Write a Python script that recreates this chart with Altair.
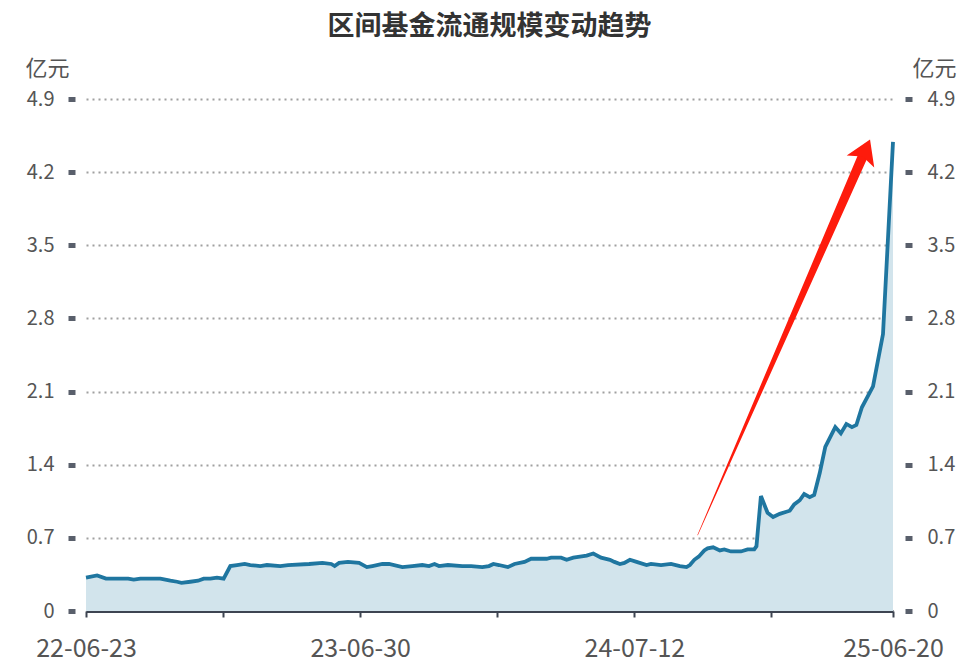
import altair as alt
import pandas as pd

# trading-day index (x) and circulating scale in 亿元 (y)
idx = [0, 10, 18, 38, 43, 49, 67, 76, 82, 86, 94, 101, 106, 112, 118, 124,
       130, 136, 143, 148, 157, 163, 175, 182, 201, 213, 221, 224, 228, 236,
       246, 253, 258, 267, 273, 285, 294, 303, 309, 314, 318, 326, 339, 347,
       357, 363, 367, 372, 380, 386, 395, 401, 415, 419, 428, 433, 439, 445,
       451, 457, 464, 472, 476, 481, 485, 490, 496, 505, 509, 518, 527, 535,
       541, 544, 548, 552, 557, 560, 565, 571, 575, 581, 590, 596, 602, 604,
       608, 614, 619, 625, 631, 634, 638, 643, 647, 652, 656, 661, 666, 675,
       680, 685, 690, 694, 699, 709, 718, 727]
val = [0.32, 0.34, 0.31, 0.31, 0.30, 0.31, 0.31, 0.29, 0.28, 0.27, 0.28, 0.29,
       0.31, 0.31, 0.32, 0.31, 0.43, 0.44, 0.45, 0.44, 0.43, 0.44, 0.43, 0.44,
       0.45, 0.46, 0.45, 0.43, 0.46, 0.47, 0.46, 0.42, 0.43, 0.45, 0.45, 0.42,
       0.43, 0.44, 0.43, 0.45, 0.43, 0.44, 0.43, 0.43, 0.42, 0.43, 0.45, 0.44,
       0.42, 0.45, 0.47, 0.50, 0.50, 0.51, 0.51, 0.49, 0.51, 0.52, 0.53, 0.55,
       0.51, 0.49, 0.47, 0.45, 0.46, 0.49, 0.47, 0.44, 0.45, 0.44, 0.45, 0.43,
       0.42, 0.44, 0.49, 0.52, 0.58, 0.60, 0.61, 0.58, 0.59, 0.57, 0.57, 0.59,
       0.59, 0.62, 1.10, 0.94, 0.90, 0.93, 0.95, 0.96, 1.02, 1.06, 1.12, 1.09,
       1.11, 1.32, 1.57, 1.76, 1.70, 1.79, 1.76, 1.78, 1.95, 2.15, 2.65, 4.49]

x_tick_values = [0, 123, 247, 370, 494, 617, 727]
x_label_idx = [0, 247, 494, 727]
x_label_text = ["22-06-23", "23-06-30", "24-07-12", "25-06-20"]
y_ticks = [0, 0.7, 1.4, 2.1, 2.8, 3.5, 4.2, 4.9]

# annotation arrow (tapered shaft + head)
arrow_x = [551, 702]
arrow_y = [0.727, 4.407]
arrow_w = [0.5, 10]
head_x = [702]
head_y = [4.407]

df = pd.DataFrame({"i": idx, "v": val})
arrow_df = pd.DataFrame({"i": arrow_x, "v": arrow_y, "w": arrow_w, "o": [0, 1]})
head_df = pd.DataFrame({"i": head_x, "v": head_y})

FONT = "Noto Sans CJK SC"
LABEL_COLOR = "#555555"
AXIS_DARK = "#3d4451"
LINE_COLOR = "#1f76a0"
RED = "#fe1b0c"

label_expr = " : ".join(
    f"datum.value == {k} ? '{t}'" for k, t in zip(x_label_idx, x_label_text)
) + " : ''"

x_enc = alt.X(
    "i:Q",
    scale=alt.Scale(domain=[0, 727], nice=False, zero=False),
    axis=alt.Axis(
        values=x_tick_values, labelExpr=label_expr, title=None, grid=False,
        domainColor=AXIS_DARK, domainWidth=3, tickColor=AXIS_DARK, tickWidth=2,
        tickSize=6, labelFontSize=25, labelColor=LABEL_COLOR, labelPadding=19,
        labelFlush=False, labelOverlap=False, labelFont=FONT,
    ),
)

y_scale = alt.Scale(domain=[0, 4.9], nice=False, zero=True)

left_axis = alt.Axis(
    values=y_ticks, format="~g", orient="left", domain=False,
    tickSize=7, tickWidth=5, tickColor="#595f6b", offset=11, labelPadding=14,
    labelFontSize=20, labelColor=LABEL_COLOR, labelFont=FONT,
    grid=True, gridDash=[2, 4], gridColor="#a0a0a0", gridWidth=2,
    title="亿元", titleAngle=0, titleX=-50, titleY=-31, titleAlign="left",
    titleBaseline="middle", titleFontSize=22, titleFontWeight="normal",
    titleColor=LABEL_COLOR, titleFont=FONT,
)
right_axis = alt.Axis(
    values=y_ticks, format="~g", orient="right", domain=False,
    tickSize=7, tickWidth=5, tickColor="#595f6b", offset=12, labelPadding=15,
    labelFontSize=20, labelColor=LABEL_COLOR, labelFont=FONT, grid=False,
    title="亿元", titleAngle=0, titleX=7, titleY=-31, titleAlign="left",
    titleBaseline="middle", titleFontSize=22, titleFontWeight="normal",
    titleColor=LABEL_COLOR, titleFont=FONT,
)

area = alt.Chart(df).mark_area(color="#d2e4ec", opacity=1).encode(
    x=x_enc, y=alt.Y("v:Q", scale=y_scale, axis=left_axis)
)
line = alt.Chart(df).mark_line(color=LINE_COLOR, strokeWidth=3.8).encode(
    x=x_enc, y=alt.Y("v:Q", scale=y_scale, axis=right_axis)
)
shaft = alt.Chart(arrow_df).mark_trail(color=RED, opacity=1).encode(
    x=x_enc,
    y=alt.Y("v:Q", scale=y_scale, axis=None),
    size=alt.Size("w:Q", scale=None, legend=None),
    order="o:Q",
)
head = alt.Chart(head_df).mark_point(
    shape="M0,-1L1.25,1L0,0.55L-1.25,1Z", filled=True, size=576, angle=23.5,
    color=RED, opacity=1, strokeWidth=0,
).encode(x=x_enc, y=alt.Y("v:Q", scale=y_scale, axis=None))

chart = (
    alt.layer(area, line, shaft, head)
    .resolve_scale(y="independent")
    .properties(
        width=807,
        height=512,
        autosize=alt.AutoSizeParams(type="none"),
        padding={"left": 78, "top": 91, "right": 78, "bottom": 54},
        view=alt.ViewBackground(strokeWidth=0, strokeOpacity=0),
        title=alt.TitleParams(
            "区间基金流通规模变动趋势", fontSize=27, fontWeight="bold",
            color="#333333", anchor="middle", frame="group", offset=16, font=FONT,
        ),
    )
    .configure_view(strokeWidth=0, strokeOpacity=0)
    .configure(font=FONT)
)

chart.save("out.html", embed_options={"renderer": "svg", "actions": False})
